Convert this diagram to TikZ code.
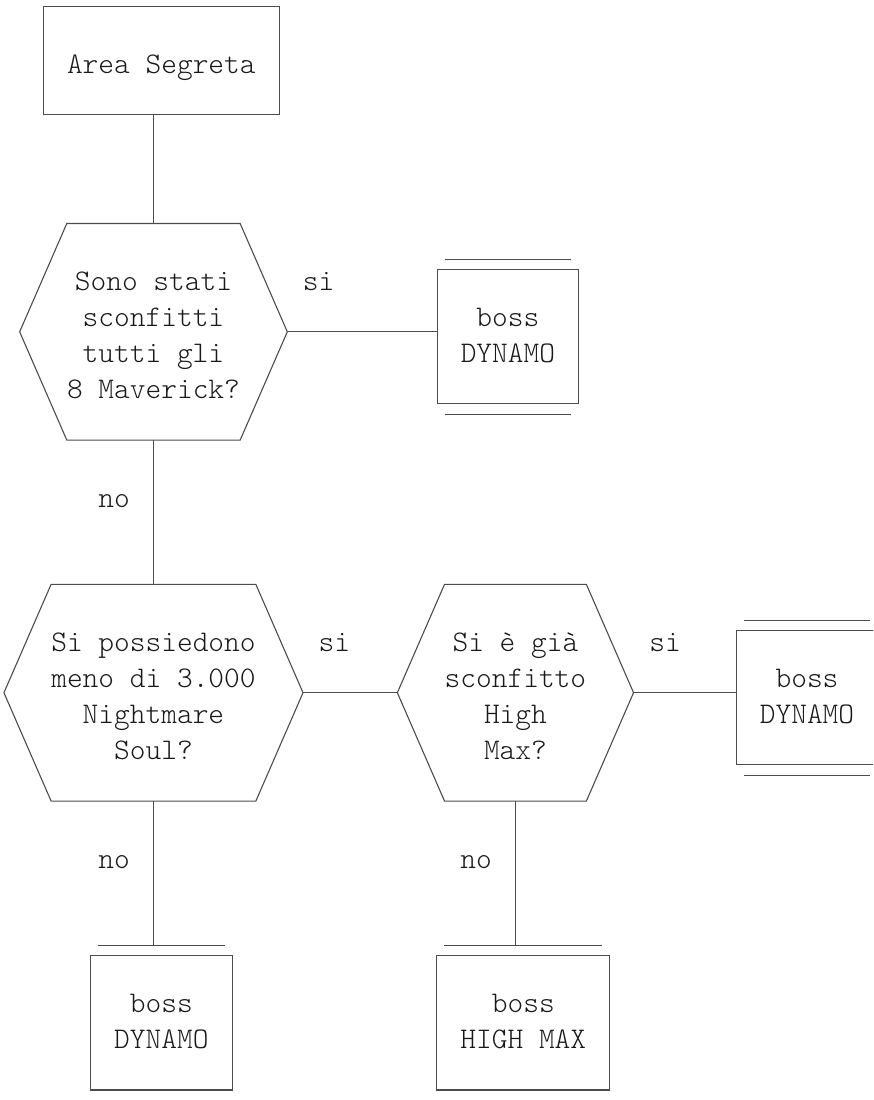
\documentclass[tikz,border=0pt]{standalone}
\usepackage{fontspec}
\usepackage{tikz}
\usetikzlibrary{positioning}

\newfontfamily\flowfont{lmmonolt10-regular.otf}

% hexagon round a question node
\newcommand{\hexframe}[1]{%
  \draw [boxline] (#1.west) -- ([xshift=47.16pt]#1.north west)
    -- ([xshift=-47.16pt]#1.north east) -- (#1.east)
    -- ([xshift=-47.16pt]#1.south east) -- ([xshift=47.16pt]#1.south west)
    -- cycle;}

% second rule above and below a boss box
\newcommand{\bossrules}[1]{%
  \draw [boxline] ([shift={(7.86pt,10.05pt)}]#1.north west) -- ([shift={(-7.86pt,10.05pt)}]#1.north east);
  \draw [boxline] ([shift={(7.86pt,-10.05pt)}]#1.south west) -- ([shift={(-7.86pt,-10.05pt)}]#1.south east);
  \coordinate (#1 top) at ([yshift=10.05pt]#1.north);}

\begin{document}
\begin{tikzpicture}[x=1pt, y=-1pt,
  every node/.style={font=\flowfont\fontsize{29.94}{36.05}\selectfont, text=black!90, inner sep=0pt},
  boxline/.style={draw=black!70, line width=1.1pt},
  startbox/.style={boxline, minimum width=235.8pt, text height=67.1pt, text depth=41.05pt},
  % multi-line text: the baseline is that of the last line
  question/.style={align=center, text height=175.25pt, text depth=41.05pt},
  bossbox/.style={boxline, align=center, minimum width=141.48pt, text height=93.1pt, text depth=41.05pt},
  silabel/.style={anchor=base, yshift=41.05pt},
  nolabel/.style={anchor=base, pos=0.465, xshift=-39.3pt}]

\useasboundingbox (0,0) rectangle (873,1100);
\clip (0,0) rectangle (873,1100);

\node [startbox] (area) at (161.34,60.675) {Area Segreta};

\node [question, minimum width=267.24pt, below=108.15pt of area, xshift=-7.86pt] (q1)
  {Sono stati\\sconfitti\\tutti gli\\8 Maverick?};
\node [bossbox, right=149.34pt of q1, yshift=-5.05pt] (dyn1) {boss\\DYNAMO};

\node [question, minimum width=298.68pt, below=144.2pt of q1] (q2)
  {Si possiedono\\meno di 3.000\\Nightmare\\Soul?};
\node [question, minimum width=235.8pt, right=94.32pt of q2] (q3)
  {Si è già\\sconfitto\\High\\Max?};
\node [bossbox, right=102.18pt of q3, yshift=-5.05pt] (dyn2) {boss\\DYNAMO};

\node [bossbox, below=154.25pt of q2, xshift=7.86pt] (dyn3) {boss\\DYNAMO};
\node [bossbox, minimum width=172.92pt, below=154.25pt of q3, xshift=7.86pt] (hmax) {boss\\HIGH MAX};

\hexframe{q1}
\hexframe{q2}
\hexframe{q3}

\bossrules{dyn1}
\bossrules{dyn2}
\bossrules{dyn3}
\bossrules{hmax}

\draw [boxline] (area.south -| q1.north) -- (q1.north);
\draw [boxline] (q1.east) -- node [silabel, pos=0.21] {si} (q1.east -| dyn1.west);
\draw [boxline] (q1.south) -- node [nolabel] {no} (q2.north);
\draw [boxline] (q2.east) -- node [silabel, pos=0.333] {si} (q3.west);
\draw [boxline] (q3.east) -- node [silabel, pos=0.308] {si} (q3.east -| dyn2.west);
\draw [boxline] (q2.south) -- node [nolabel] {no} (q2.south |- dyn3 top);
\draw [boxline] (q3.south) -- node [nolabel] {no} (q3.south |- hmax top);

\end{tikzpicture}
\end{document}
